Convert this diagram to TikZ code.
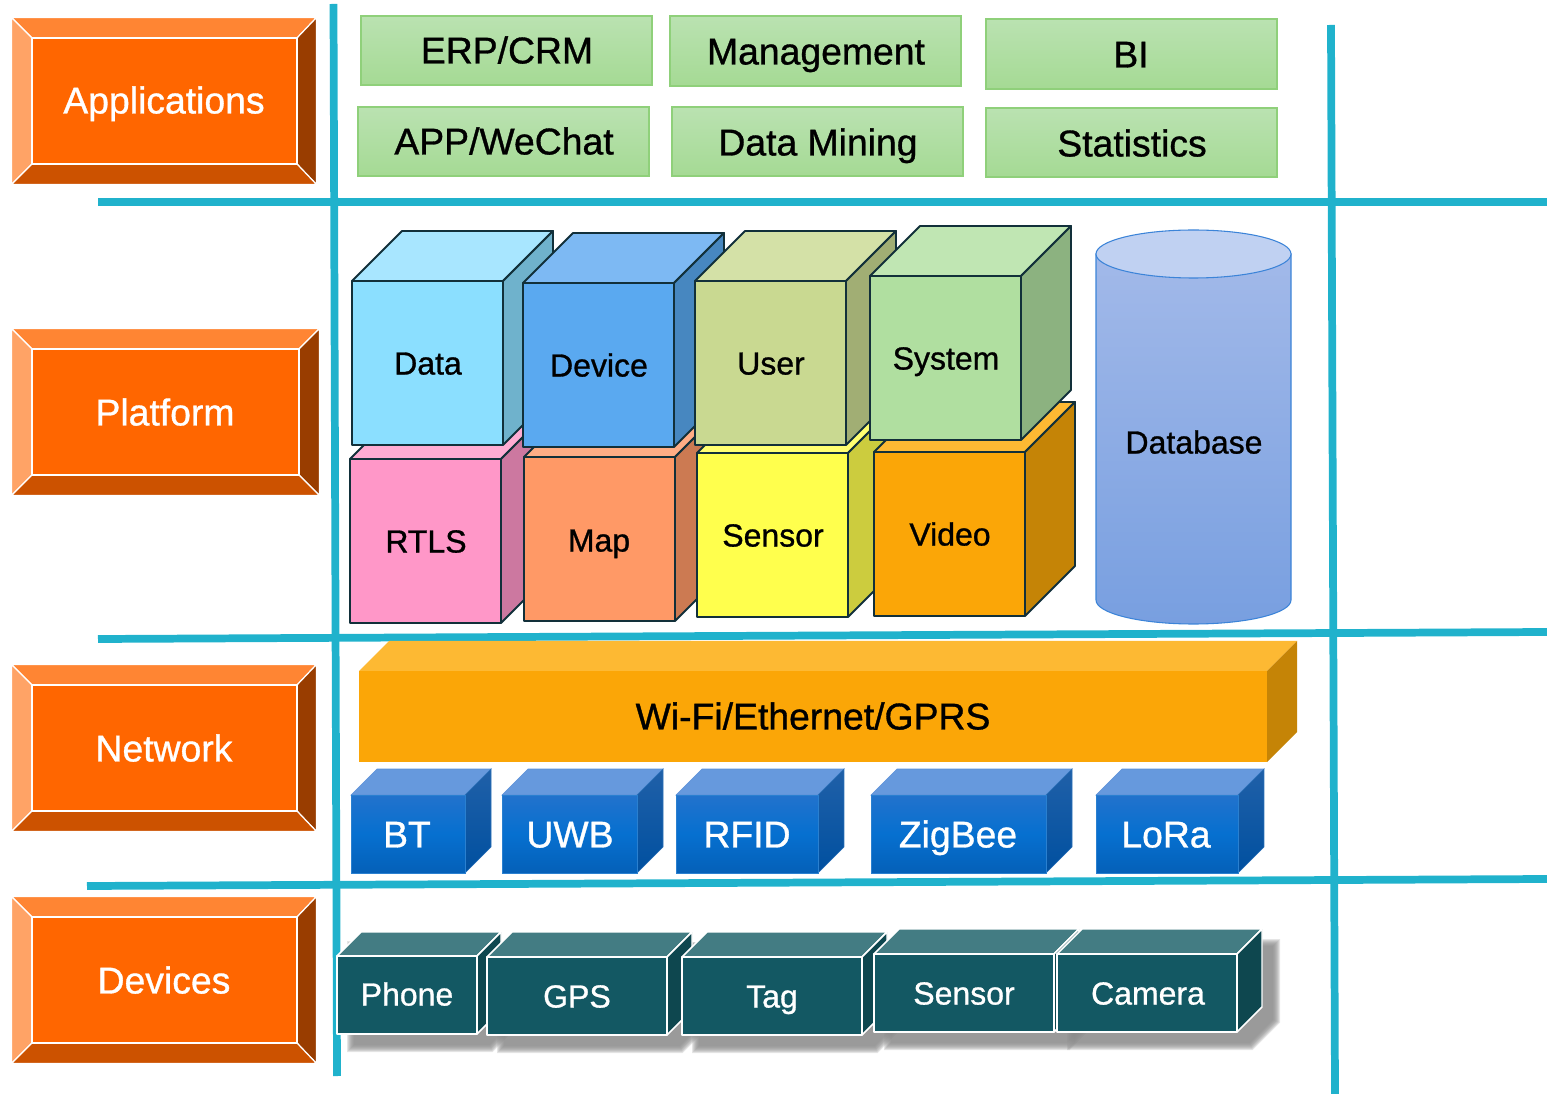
\documentclass[tikz,border=0pt]{standalone}
\usepackage{fontspec}
\setmainfont[FakeBold=0.9]{Liberation Sans}
\definecolor{rule}{HTML}{20B2CC}
\definecolor{orF}{HTML}{FF6600}
\definecolor{orT}{HTML}{FF8533}
\definecolor{orL}{HTML}{FFA366}
\definecolor{orR}{HTML}{993D00}
\definecolor{orB}{HTML}{CC5200}
\definecolor{edge}{HTML}{12303A}
\definecolor{tealF}{HTML}{135863}
\definecolor{tealT}{HTML}{437C83}
\definecolor{tealS}{HTML}{0E474F}
\definecolor{leafD}{HTML}{8FD07A}
\definecolor{leafT}{HTML}{BAE2B1}
\definecolor{leafB}{HTML}{A5DA94}
\definecolor{blfD}{HTML}{2A80D0}
\definecolor{blfT}{HTML}{2272CC}
\definecolor{blfM}{HTML}{0670D0}
\definecolor{blfB}{HTML}{0560B8}
\definecolor{bltD}{HTML}{5A90D8}
\definecolor{bltF}{HTML}{6699DD}
\definecolor{blsD}{HTML}{2A70B8}
\definecolor{blsT}{HTML}{2060A8}
\definecolor{blsB}{HTML}{0050A0}
\definecolor{dbD}{HTML}{3C84D8}
\definecolor{dbT}{HTML}{A2B9E9}
\definecolor{dbB}{HTML}{789FE0}
\definecolor{dbE}{HTML}{C0D1F2}
\definecolor{amF}{HTML}{FBA607}
\definecolor{amT}{HTML}{FDB933}
\definecolor{amS}{HTML}{C58406}
\tikzset{
  rulex/.style={line width=5.8pt,rule},
  lbl/.style={inner sep=0pt,text depth=0pt,align=center},
  big/.style={lbl,text height=18.7pt,font=\fontsize{28}{30}\selectfont},
  mid/.style={lbl,text height=15.8pt,font=\fontsize{24}{26}\selectfont},
  bevel/.style={draw=white,line width=0.9pt,line join=round},
  leaf/.style={draw=leafD,line width=0.8pt,top color=leafT,bottom color=leafB},
  dark/.style={draw=edge,line width=1.4pt,line join=round},
  wh/.style={draw=white,line width=1.1pt,line join=round},
  bluef/.style={draw=blfD,line width=0.5pt,top color=blfT,bottom color=blfB,middle color=blfM},
  bluet/.style={draw=bltD,line width=0.5pt,fill=bltF},
  blues/.style={draw=blsD,line width=0.5pt,top color=blsT,bottom color=blsB},
}
% \cube{depth}{x1}{y1}{x2}{y2}{front}{top}{side}
\newcommand{\cube}[8]{%
  \path[#7] (#2,#3) -- ({#2+#1},{#3-#1}) -- ({#4+#1},{#3-#1}) -- (#4,#3) -- cycle;
  \path[#8] (#4,#3) -- ({#4+#1},{#3-#1}) -- ({#4+#1},{#5-#1}) -- (#4,#5) -- cycle;
  \path[#6] (#2,#3) rectangle (#4,#5);
}
% \bevelbox{x1}{y1}{x2}{y2}{x1'}{y1'}{x2'}{y2'}
\newcommand{\bevelbox}[8]{%
  \path[bevel,fill=orT] (#1,#2) -- (#3,#2) -- (#7,#6) -- (#5,#6) -- cycle;
  \path[bevel,fill=orL] (#1,#2) -- (#5,#6) -- (#5,#8) -- (#1,#4) -- cycle;
  \path[bevel,fill=orR] (#3,#2) -- (#3,#4) -- (#7,#8) -- (#7,#6) -- cycle;
  \path[bevel,fill=orB] (#1,#4) -- (#5,#8) -- (#7,#8) -- (#3,#4) -- cycle;
  \path[bevel,fill=orF] (#5,#6) rectangle (#7,#8);
}
% \platcube{x1}{y1}{front}{top}{side}
\newcommand{\platcube}[5]{%
  \definecolor{pf}{HTML}{#3}\definecolor{pt}{HTML}{#4}\definecolor{ps}{HTML}{#5}%
  \pgfmathtruncatemacro{\xtwo}{#1+151}\pgfmathtruncatemacro{\ytwo}{#2+164}%
  \cube{50}{#1}{#2}{\xtwo}{\ytwo}{dark,fill=pf}{dark,fill=pt}{dark,fill=ps}%
}
% \devshadow{x1}{y1}{x2}{y2}: soft silhouette of a 25px cube, offset by 14px
\newcommand{\devshadow}[4]{%
  \foreach \g in {4,3,2,1,0,-1,-2,-3}{%
    \fill[black!46,opacity=0.22]
      ({#1+14-\g},{#2-11-\g}) -- ({#3+39+\g},{#2-11-\g})
      -- ({#3+39+\g},{#4-11+0.41*\g}) -- ({#3+14+0.41*\g},{#4+14+\g})
      -- ({#1+14-\g},{#4+14+\g}) -- cycle;
  }%
}
\begin{document}
\begin{tikzpicture}[x=0.75pt,y=-0.75pt]
\useasboundingbox (0,0) rectangle (1547,1094);
% rules
\coordinate (va) at (333.5,4); \coordinate (vb) at (337,1076);
\coordinate (wa) at (1331,25); \coordinate (wb) at (1335,1094);
\coordinate (ha) at (98,202); \coordinate (hb) at (1547,202);
\coordinate (ia) at (98,639); \coordinate (ib) at (1547,632);
\coordinate (ja) at (87,886); \coordinate (jb) at (1547,879);
\draw[rulex] (va) -- (vb);
\draw[rulex] (wa) -- (wb);
\draw[rulex] (ha) -- (hb);
\draw[rulex] (ia) -- (ib);
\draw[rulex] (ja) -- (jb);
% layer labels
\bevelbox{11.5}{17.5}{316.5}{184.5}{32}{38}{297}{164}
\node[big,text=white] (napp) at (164,101) {Applications};
\bevelbox{11.5}{328.5}{319.5}{495.5}{32}{349}{299}{475}
\node[big,text=white] (nplat) at (165,413) {Platform};
\bevelbox{11.5}{664.5}{316.5}{831.5}{32}{685}{297}{811}
\node[big,text=white] (nnet) at (164,749) {Network};
\bevelbox{11.5}{896.5}{316.5}{1063.5}{32}{917}{297}{1043}
\node[big,text=white] (ndev) at (164,981) {Devices};
% applications
\path[leaf] (361,16) rectangle (652,85);
\node[big] (erp) at (507,51) {ERP/CRM};
\path[leaf] (670,16) rectangle (961,86);
\node[big] (mgmt) at (816,52) {Management};
\path[leaf] (986,19) rectangle (1277,89);
\node[big] (bi) at (1131,55) {BI};
\path[leaf] (358,107) rectangle (649,176);
\node[big] (appw) at (504,142) {APP/WeChat};
\path[leaf] (672,107) rectangle (963,176);
\node[big] (mining) at (818,143) {Data Mining};
\path[leaf] (986,108) rectangle (1277,177);
\node[big] (stats) at (1132,144) {Statistics};
% platform cubes, lower row
\platcube{350}{459}{FF97C8}{FFACD3}{CC78A0}
\platcube{524}{457}{FF9966}{FFAD85}{CC7A52}
\platcube{697}{453}{FFFF4D}{FFFF71}{CCCC3E}
\platcube{874}{452}{FBA607}{FDB933}{C58406}
% upper row
\platcube{352}{281}{8BDFFF}{A8E6FF}{6FB2CC}
\platcube{523}{283}{5AA9F0}{7DB9F3}{4787C0}
\platcube{695}{281}{C9D991}{D4E1A7}{A1AE74}
\platcube{870}{276}{B0DFA0}{C0E6B3}{8CB280}
\node[mid] (rtls) at (426,542) {RTLS};
\node[mid] (map) at (599,541) {Map};
\node[mid] (sens) at (773,536) {Sensor};
\node[mid] (video) at (950,535) {Video};
\node[mid] (data) at (428,364) {Data};
\node[mid] (device) at (599,366) {Device};
\node[mid] (user) at (771,364) {User};
\node[mid] (system) at (946,359) {System};
% database
\path[draw=dbD,line width=0.8pt,top color=dbT,bottom color=dbB]
  (1096,254) -- (1096,600) arc[start angle=180,end angle=0,x radius=97.5,y radius=24] -- (1291,254) -- cycle;
\path[draw=dbD,line width=0.8pt,fill=dbE] (1193.5,254) ellipse[x radius=97.5,y radius=24];
\node[mid] (db) at (1194,443) {Database};
% network
\cube{30}{359}{671}{1267}{762}{fill=amF}{fill=amT}{fill=amS}
\node[big] (wifi) at (813,717) {Wi-Fi/Ethernet/GPRS};
\cube{26}{351}{795}{465}{873}{bluef}{bluet}{blues}
\node[big,text=white] (bt) at (407,835) {BT};
\cube{26}{502}{795}{637}{873}{bluef}{bluet}{blues}
\node[big,text=white] (uwb) at (570,835) {UWB};
\cube{26}{676}{795}{818}{873}{bluef}{bluet}{blues}
\node[big,text=white] (rfid) at (747,835) {RFID};
\cube{26}{871}{795}{1046}{873}{bluef}{bluet}{blues}
\node[big,text=white] (zig) at (958,835) {ZigBee};
\cube{26}{1096}{795}{1238}{873}{bluef}{bluet}{blues}
\node[big,text=white] (lora) at (1166,835) {LoRa};
% devices
\devshadow{337}{956}{477}{1034}
\devshadow{487}{957}{667}{1035}
\devshadow{682}{957}{862}{1035}
\devshadow{874}{954}{1054}{1032}
\devshadow{1057}{954}{1237}{1032}
\cube{24}{337}{956}{477}{1034}{wh,fill=tealF}{wh,fill=tealT}{wh,fill=tealS}
\cube{25}{487}{957}{667}{1035}{wh,fill=tealF}{wh,fill=tealT}{wh,fill=tealS}
\cube{25}{682}{957}{862}{1035}{wh,fill=tealF}{wh,fill=tealT}{wh,fill=tealS}
\cube{25}{874}{954}{1054}{1032}{wh,fill=tealF}{wh,fill=tealT}{wh,fill=tealS}
\cube{25}{1057}{954}{1237}{1032}{wh,fill=tealF}{wh,fill=tealT}{wh,fill=tealS}
\node[mid,text=white] (phone) at (407,995) {Phone};
\node[mid,text=white] (gps) at (577,997) {GPS};
\node[mid,text=white] (tag) at (772,997) {Tag};
\node[mid,text=white] (senso) at (964,994) {Sensor};
\node[mid,text=white] (camera) at (1148,994) {Camera};
\end{tikzpicture}
\end{document}
